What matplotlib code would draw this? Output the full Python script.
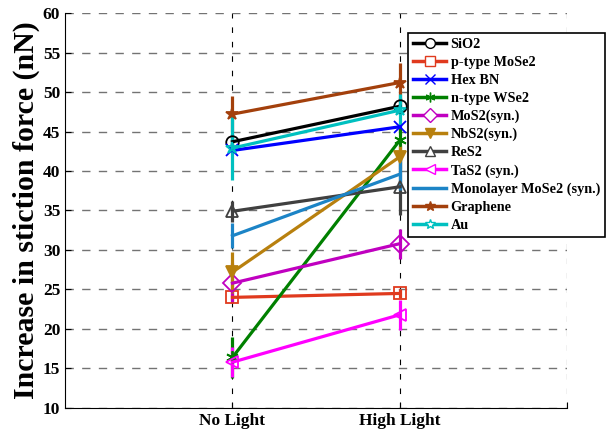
import numpy as np
import matplotlib
matplotlib.use('Agg')
import matplotlib.pyplot as plt
from matplotlib.lines import Line2D

# ============== 数据 ==============
conditions = ['No Light', 'High Light']
names = ['SiO2', 'p-type MoSe2', 'Hex BN', 'n-type WSe2', 'MoS2(syn.)', 'NbS2(syn.)',
         'ReS2', 'TaS2 (syn.)', 'Monolayer MoSe2 (syn.)', 'Graphene', 'Au']
no_light = [43.7, 24.0, 42.6, 16.4, 25.8, 27.2, 34.9, 15.8, 31.8, 47.2, 42.9]
high_light = [48.2, 24.5, 45.6, 43.9, 30.8, 41.8, 38.0, 21.8, 39.6, 51.2, 47.7]
err_no = [1.0, 0.5, 0.5, 2.6, 2.5, 2.6, 1.3, 1.9, 1.6, 2.3, 4.0]
err_high = [1.0, 0.6, 0.5, 1.5, 1.9, 1.5, 3.6, 1.9, 2.0, 2.5, 2.0]

colors = ['#000000', '#e03a1e', '#0000ff', '#008000', '#c000c0', '#b8800e',
          '#404040', '#ff00ff', '#1c84c6', '#a3400c', '#00c0c0']
markers = ['o', 's', 'x', (6, 2, 0), 'D', 'v', '^', '<', None, '*', '*']
fills = ['none', 'none', 'none', 'none', 'none', 'full', 'none', 'none', 'none', 'full', 'none']

plt.rcParams['font.family'] = ['Liberation Serif', 'DejaVu Serif']
plt.rcParams['font.weight'] = 'bold'

fig = plt.figure(figsize=(6.08, 4.34), dpi=100)
ax = fig.add_axes([0.107, 0.06, 0.826, 0.91])

x = np.array([1, 2])
handles = []
for i, name in enumerate(names):
    y = [no_light[i], high_light[i]]
    e = [err_no[i], err_high[i]]
    mfc = colors[i] if fills[i] == 'full' else 'none'
    ax.errorbar(x, y, yerr=e, color=colors[i], lw=2.3, elinewidth=2.3, capsize=0,
                marker=markers[i], markersize=9, markerfacecolor=mfc,
                markeredgecolor=colors[i], markeredgewidth=1.3)
    handles.append(Line2D([], [], color=colors[i], lw=2.5, marker=markers[i],
                          markersize=7, markerfacecolor=mfc if mfc != 'none' else 'white',
                          markeredgecolor=colors[i], markeredgewidth=1.0, label=name))

ax.set_xlim(0, 3)
ax.set_ylim(10, 60)
ax.set_xticks([1, 2, 3])
ax.set_xticklabels(conditions + [''], fontsize=12.5, fontweight='bold')
ax.set_yticks(np.arange(10, 61, 5))
ax.tick_params(axis='y', labelsize=12.5, direction='in', length=4)
ax.tick_params(axis='x', direction='in', length=4)
for lab in ax.get_yticklabels():
    lab.set_fontweight('bold')

ax.spines['top'].set_visible(False)
ax.spines['right'].set_visible(False)
ax.yaxis.grid(True, color='0.45', linestyle=(0, (6, 6)), lw=1.0)
ax.xaxis.grid(True, color='k', linestyle=(0, (5, 8)), lw=0.8)
ax.set_axisbelow(True)

ax.set_ylabel('Increase in stiction force (nN)', fontsize=21.5, fontweight='bold', labelpad=2)

leg = fig.legend(handles=handles, loc='upper right', bbox_to_anchor=(0.995, 0.924), fontsize=10.3,
                 handlelength=2.3, labelspacing=0.34, borderpad=0.35, borderaxespad=0,
                 handletextpad=0.3, fancybox=False, framealpha=1)
leg.get_frame().set_edgecolor('k')
leg.get_frame().set_linewidth(1.2)

plt.savefig('out.png', dpi=100)
plt.close()
